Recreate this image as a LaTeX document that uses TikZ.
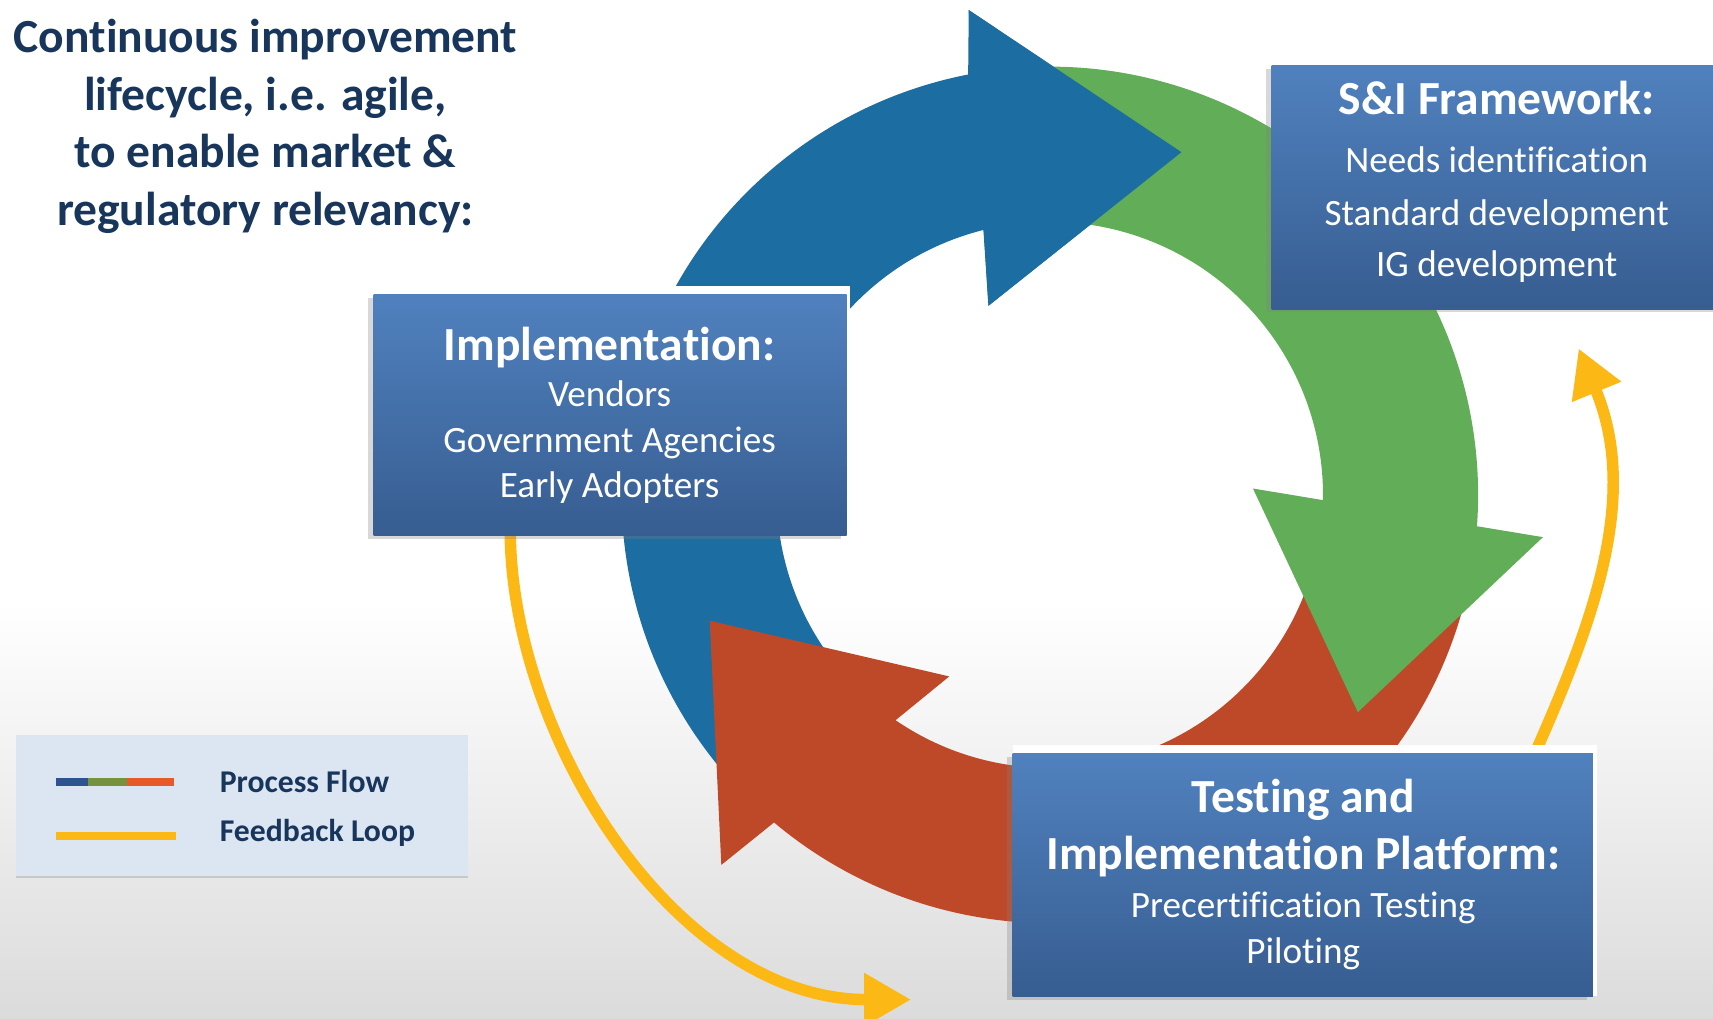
\documentclass[tikz,border=0pt]{standalone}
\usepackage{fontspec}
\setmainfont{Carlito}[RawFeature={-liga;-clig;-dlig;-hlig;-calt;-rlig}]
\usetikzlibrary{arrows.meta,shadows}
\newcommand{\nolig}{\kern0pt}
\definecolor{ringblue}{RGB}{28,109,161}
\definecolor{ringgreen}{RGB}{98,173,87}
\definecolor{ringred}{RGB}{190,73,40}
\definecolor{fbyellow}{RGB}{252,185,22}
\definecolor{navy}{RGB}{24,54,92}
\definecolor{boxtop}{RGB}{80,129,190}
\definecolor{boxbot}{RGB}{55,93,145}
\definecolor{legfill}{RGB}{220,230,242}
\definecolor{legblue}{RGB}{44,84,145}
\definecolor{leggreen}{RGB}{118,146,60}
\definecolor{legorange}{RGB}{230,90,42}
\begin{document}
\begin{tikzpicture}[x=1pt,y=1pt,
  panel/.style={draw=none, shade, top color=boxtop, bottom color=boxbot,
    inner sep=0pt, outer sep=0pt,
    drop shadow={shadow xshift=-5pt, shadow yshift=-3pt, opacity=0.3}},
  glowbox/.style={fill=white, draw=none, inner sep=0pt, outer sep=0pt},
  headtxt/.style={font=\fontsize{43.5}{52}\selectfont\bfseries, text=white, anchor=base, inner sep=0pt},
  subtxt/.style={font=\fontsize{34}{41}\selectfont, text=white, anchor=base, inner sep=0pt},
  titletxt/.style={font=\fontsize{43.5}{52}\selectfont\bfseries, text=navy, anchor=base, inner sep=0pt},
  legtxt/.style={font=\fontsize{29}{35}\selectfont\bfseries, text=navy, anchor=base west, inner sep=0pt},
  fbarrow/.style={fbyellow, line width=10.5pt, -{Triangle[length=43pt,width=46pt]}}
]
\useasboundingbox (0,0) rectangle (1568,932);
% background
\fill[white] (0,0) rectangle (1568,932);
\shade[top color=white, bottom color=gray!28] (0,0) rectangle (1568,380);

% ring of process arrows
\begin{scope}[shift={(961,479)}]
  \fill[ringblue] (220:392) arc[start angle=220, end angle=101, radius=392]
    -- (99.5:450) -- (69:336) -- (108:182) -- (104:250)
    arc[start angle=104, end angle=220, radius=250] -- cycle;
  \fill[ringred] (-15:392) arc[start angle=-15, end angle=-130.1, radius=392]
    -- (-131.6:453) -- (-159.7:332) -- (-119:190) -- (-124.4:250)
    arc[start angle=-124.4, end angle=-15, radius=250] -- cycle;
  \fill[ringgreen] (95:392) arc[start angle=95, end angle=-4.2, radius=392]
    -- (-4.9:453) -- (-35.2:345) -- (1.8:186) -- (-1.1:250)
    arc[start angle=-1.1, end angle=95, radius=250] -- cycle;
  \fill[ringblue] (99.5:450) -- (69:336) -- (108:182) -- cycle;
\end{scope}

% feedback arrows
\coordinate (fbLs) at (467,448);
\coordinate (fbLe) at (834,17);
\coordinate (fbRs) at (1403,238);
\coordinate (fbRe) at (1445,613);
\draw[fbarrow] (fbLs) .. controls (467,255) and (620,17) .. (fbLe);
\draw[fbarrow] (fbRs) .. controls (1462,370) and (1500,480) .. (fbRe);

% white glows behind boxes
\node[glowbox, minimum width=436pt, minimum height=228pt] (implglow) at (560,556) {};
\node[glowbox, minimum width=535pt, minimum height=230pt] (testglow) at (1194.5,135) {};

% boxes
\node[panel, minimum width=433pt, minimum height=220pt] (impl) at (558.5,552) {};
\node[panel, minimum width=411pt, minimum height=223pt] (si) at (1369.5,760.5) {};
\node[panel, minimum width=531pt, minimum height=222pt] (test) at (1192.5,131) {};

% box texts
\node[headtxt] (implh) at (558,602) {Implementat\nolig ion:};
\node[subtxt] (impl1) at (558,560) {Vendors};
\node[subtxt] (impl2) at (558,518) {Government Agencies};
\node[subtxt] (impl3) at (558,477) {Early Adopters};

\node[headtxt] (sih) at (1370,827) {S\&I Framework:};
\node[subtxt] (si1) at (1370,774) {Needs ident\nolig if\nolig icat\nolig ion};
\node[subtxt] (si2) at (1370,726) {Standard development};
\node[subtxt] (si3) at (1370,679) {IG development};

\node[headtxt] (testh1) at (1193,188) {Test\nolig ing and};
\node[headtxt] (testh2) at (1193,136) {Implementat\nolig ion Platform:};
\node[subtxt] (test1) at (1193,92) {Precert\nolig if\nolig icat\nolig ion Test\nolig ing};
\node[subtxt] (test2) at (1193,50) {Pilot\nolig ing};

% title
\node[titletxt] (t1) at (243,884) {Cont\nolig inuous improvement};
\node[titletxt] (t2) at (243,831) {lifecycle, i.e. agile,};
\node[titletxt] (t3) at (243,779) {to enable market \&};
\node[titletxt] (t4) at (243,726) {regulatory relevancy:};

% legend
\node[fill=legfill, draw=none, minimum width=413pt, minimum height=129pt, inner sep=0pt,
  drop shadow={shadow xshift=0pt, shadow yshift=-2pt, opacity=0.3}] (legend) at (221.5,194.5) {};
\coordinate (pa) at (51,216);
\coordinate (pb) at (81,216);
\coordinate (pc) at (116,216);
\coordinate (pd) at (159,216);
\draw[legblue, line width=7pt] (pa) -- (pb);
\draw[leggreen, line width=7pt] (pb) -- (pc);
\draw[legorange, line width=7pt] (pc) -- (pd);
\coordinate (fa) at (51,166.5);
\coordinate (fb) at (161,166.5);
\draw[fbyellow, line width=7.5pt] (fa) -- (fb);
\node[legtxt] (lt1) at (201,207) {Process Flow};
\node[legtxt] (lt2) at (201,162) {Feedback Loop};
\end{tikzpicture}
\end{document}
